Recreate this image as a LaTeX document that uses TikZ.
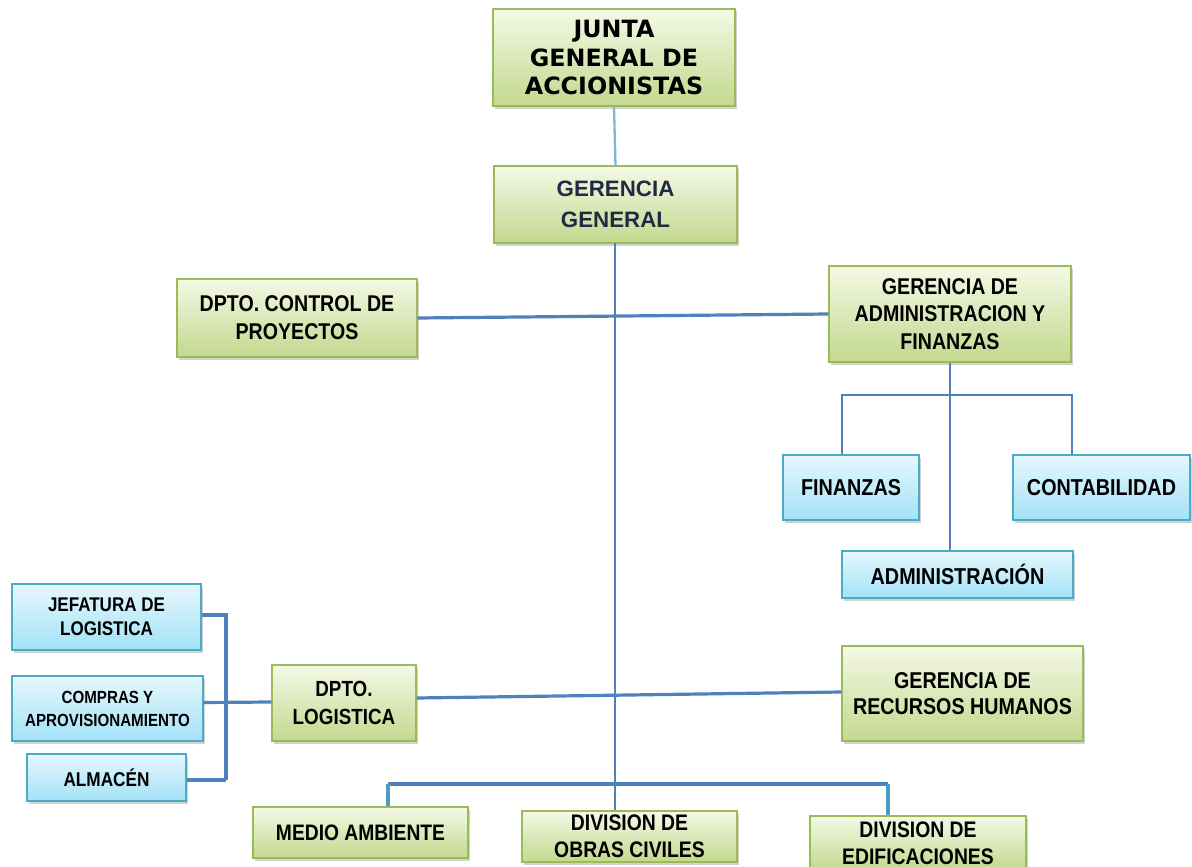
\documentclass[tikz,border=0pt]{standalone}
\usepackage{fontspec}
\setmainfont{Liberation Sans}
\newfontfamily\heavyfont{DejaVu Sans}
\newfontfamily\cond[FakeStretch=0.86]{Liberation Sans}
\usetikzlibrary{shadows,calc}
\definecolor{gborder}{HTML}{9BBB59}
\definecolor{gtop}{HTML}{F4F9E6}
\definecolor{gbot}{HTML}{C3D88E}
\definecolor{bborder}{HTML}{4BACC6}
\definecolor{btop}{HTML}{E6F7FD}
\definecolor{bbot}{HTML}{A3E2F7}
\definecolor{lblue}{HTML}{4F81BD}
\definecolor{lteal}{HTML}{4A9CC4}
\definecolor{llight}{HTML}{7DB8DA}
\definecolor{navytext}{HTML}{1F2A44}
\tikzset{
  x=1pt,y=-1pt,
  basebox/.style={line width=1.2pt, inner sep=0pt, align=center,
    drop shadow={opacity=0.35,shadow xshift=2pt,shadow yshift=-2.5pt}},
  gbox/.style={basebox, draw=gborder, top color=gtop, bottom color=gbot},
  bbox/.style={basebox, draw=bborder, top color=btop, bottom color=bbot},
  thinline/.style={draw=lblue, line width=1.8pt},
  mainline/.style={draw=lblue, line width=2.3pt},
  thickline/.style={draw=lblue, line width=3.2pt},
  tealline/.style={draw=lteal, line width=3.2pt},
}
\begin{document}
\begin{tikzpicture}
\useasboundingbox (0,0) rectangle (1192,867);
\fill[white] (0,0) rectangle (1192,867);

% nodes
\node[gbox, minimum width=242, minimum height=97,
  font=\heavyfont\bfseries\fontsize{23.8}{28.5}\selectfont] (junta) at (614,57.5)
  {JUNTA\\GENERAL DE\\ACCIONISTAS};
\node[gbox, minimum width=243, minimum height=77, text=navytext,
  font=\bfseries\fontsize{22.3}{31}\selectfont] (gg) at (615.5,204.5)
  {GERENCIA\\GENERAL};
\node[gbox, minimum width=240, minimum height=78,
  font=\cond\bfseries\fontsize{22.8}{28}\selectfont] (dcp) at (297,318)
  {DPTO. CONTROL DE\\PROYECTOS};
\node[gbox, minimum width=242, minimum height=96,
  font=\cond\bfseries\fontsize{22.8}{27.5}\selectfont] (gaf) at (950,314)
  {GERENCIA DE\\ADMINISTRACION Y\\FINANZAS};
\node[bbox, minimum width=136, minimum height=65,
  font=\cond\bfseries\fontsize{23}{27}\selectfont] (fin) at (851,487.5) {FINANZAS};
\node[bbox, minimum width=177, minimum height=65,
  font=\cond\bfseries\fontsize{23}{27}\selectfont] (cont) at (1101.5,487.5) {CONTABILIDAD};
\node[bbox, minimum width=231, minimum height=47,
  font=\cond\bfseries\fontsize{23}{27}\selectfont] (adm) at (957.5,574.5) {ADMINISTRACIÓN};
\node[bbox, minimum width=189, minimum height=66,
  font=\cond\bfseries\fontsize{19.8}{24}\selectfont] (jef) at (106.5,617) {JEFATURA DE\\LOGISTICA};
\node[bbox, minimum width=191, minimum height=65,
  font=\cond\bfseries\fontsize{17.6}{23}\selectfont] (comp) at (107.5,708.5) {COMPRAS Y\\APROVISIONAMIENTO};
\node[bbox, minimum width=159, minimum height=47,
  font=\cond\bfseries\fontsize{20}{23}\selectfont] (alm) at (106.5,777.5) {ALMACÉN};
\node[gbox, minimum width=144, minimum height=76,
  font=\cond\bfseries\fontsize{21.9}{28}\selectfont] (dlog) at (344,703) {DPTO.\\LOGISTICA};
\node[gbox, minimum width=241, minimum height=95,
  font=\cond\bfseries\fontsize{22.9}{26.5}\selectfont] (rrhh) at (962.5,693.5) {GERENCIA DE\\RECURSOS HUMANOS};
\node[gbox, minimum width=215, minimum height=51,
  font=\cond\bfseries\fontsize{22.4}{27}\selectfont] (med) at (360.5,832.5) {MEDIO AMBIENTE};
\node[gbox, minimum width=215, minimum height=51,
  font=\cond\bfseries\fontsize{22.5}{27}\selectfont] (obras) at (629.5,836.5) {DIVISION DE\\OBRAS CIVILES};
\node[gbox, minimum width=216, minimum height=54,
  font=\cond\bfseries\fontsize{22.5}{27}\selectfont] (edif) at (918,843) {DIVISION DE\\EDIFICACIONES};

% helper coordinates
\coordinate (abl) at (842,395);
\coordinate (abr) at (1072,395);
\coordinate (lbt) at (226,615);
\coordinate (lbb) at (226,780);
\coordinate (bbl) at (388,784);
\coordinate (bbr) at (888,784);
\coordinate (mv) at (615,243);

% connectors
\draw[draw=llight, line width=2.3pt] (junta.south) -- (gg.north);
\draw[mainline] (mv) -- (mv |- obras.north);
\draw[thickline] (dcp.east) -- (gaf.west);
\draw[thinline] (gaf.south) -- (gaf.south |- adm.north);
\draw[thinline] (abl |- fin.north) -- (abl) -- (abr) -- (abr |- cont.north);
\draw[thickline] ($(dlog.east)+(0,-5)$) -- ($(rrhh.west)+(0,-1.5)$);
\draw[thickline] (jef.east |- lbt) -- (lbt) -- (lbb);
\draw[thickline] (alm.east |- lbb) -- (lbb);
\draw[thickline] ($(comp.east)+(0,-6)$) -- ($(dlog.west)+(0,-1)$);
\draw[thickline] (bbl) -- (bbr);
\draw[tealline] (bbl) -- (bbl |- med.north);
\draw[tealline] (bbr) -- (bbr |- edif.north);
\end{tikzpicture}
\end{document}
